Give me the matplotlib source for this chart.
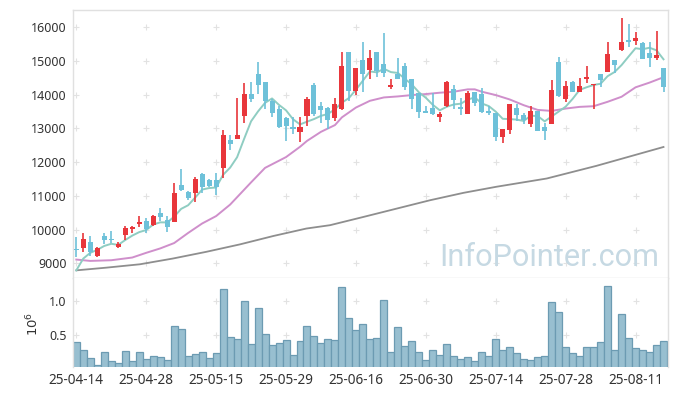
import matplotlib
matplotlib.use("Agg")
import matplotlib.pyplot as plt
import numpy as np

# ---------------- data ----------------
opens = [9420, 9455, 9640, 9220, 9800, 9720, 9490, 9840, 10010, 10160,
         10250, 10130, 10480, 10280, 10230, 11310, 11100, 11090, 11660, 11460,
         11460, 11830, 12650, 12690, 13380, 14010, 14610, 14380, 13810, 13570,
         13310, 13040, 12900, 13380, 14290, 13680, 13620, 13320, 13590, 15280,
         14120, 15030, 14730, 15270, 14910, 14240, 14610, 14860, 14470, 14060,
         13520, 13610, 13350, 13660, 14170, 13640, 13440, 14080, 14020, 13530,
         13450, 12750, 12950, 13610, 13400, 13130, 13520, 13040, 13130, 14970,
         13870, 14370, 14090, 14480, 14280, 14610, 14680, 15030, 15330, 15620,
         15600, 15540, 15250, 15100, 14780]
highs = [9780, 9910, 9800, 9490, 9910, 9950, 9630, 10100, 10100, 10390,
         10330, 10420, 10650, 10400, 11370, 11810, 11140, 11570, 11680, 11490,
         11690, 12940, 12820, 13890, 14340, 14370, 14960, 14380, 13880, 13660,
         13350, 13330, 13330, 13940, 14340, 13770, 13640, 13900, 15260, 15280,
         14780, 15570, 15330, 15270, 15820, 14480, 15080, 14950, 14470, 14060,
         13660, 14040, 13490, 14420, 14290, 13890, 14120, 14080, 14190, 13660,
         13450, 12980, 13720, 13720, 13450, 13670, 13520, 13150, 14440, 15130,
         14410, 14420, 14490, 14860, 14310, 14610, 15560, 15030, 16270, 16100,
         15870, 15560, 15570, 15890, 14780]
lows = [9190, 9340, 9210, 9190, 9580, 9590, 9460, 9700, 9900, 10080,
        9910, 10100, 10250, 9930, 10210, 11150, 10870, 10820, 11090, 11270,
        11020, 11520, 12360, 12690, 13170, 13790, 14020, 13590, 13330, 13000,
        12630, 12850, 12600, 13070, 13370, 13170, 12970, 13230, 13560, 13810,
        13990, 14090, 14460, 14520, 14520, 14160, 14460, 14140, 13590, 13300,
        13450, 13400, 13200, 13640, 13590, 13400, 13420, 13660, 13450, 13390,
        12630, 12570, 12850, 13230, 13130, 13030, 12920, 12670, 13130, 13940,
        13780, 14080, 14090, 14340, 13590, 14220, 14660, 14650, 15310, 15430,
        15480, 15060, 14810, 15030, 14090]
closes = [9380, 9730, 9320, 9440, 9700, 9700, 9570, 10040, 10090, 10220,
          10010, 10390, 10360, 10080, 11070, 11170, 10930, 11490, 11270, 11300,
          11250, 12820, 12540, 12820, 14010, 13870, 14290, 13810, 13470, 13050,
          13070, 12970, 13040, 13870, 13440, 13550, 13250, 13740, 14850, 14120,
          14780, 14610, 15100, 14710, 14650, 14290, 14480, 14240, 13860, 13500,
          13470, 13430, 13430, 14390, 13840, 13580, 14040, 13760, 13490, 13450,
          12750, 12980, 13720, 13410, 13250, 13530, 12930, 12930, 14140, 13970,
          14260, 14090, 14260, 14530, 14310, 14440, 15210, 14880, 15560, 15570,
          15680, 15060, 15100, 15180, 14240]
volumes_m = [0.392, 0.275, 0.157, 0.059, 0.245, 0.118, 0.083, 0.260, 0.113, 0.245,
             0.142, 0.186, 0.172, 0.127, 0.627, 0.583, 0.186, 0.216, 0.245, 0.157,
             0.230, 1.170, 0.466, 0.436, 0.995, 0.363, 0.892, 0.510, 0.348, 0.377,
             0.420, 0.200, 0.407, 0.627, 0.480, 0.377, 0.436, 0.420, 1.200, 0.745,
             0.572, 0.657, 0.436, 0.451, 1.010, 0.245, 0.613, 0.338, 0.407, 0.245,
             0.127, 0.275, 0.200, 0.363, 0.186, 0.142, 0.172, 0.113, 0.245, 0.186,
             0.436, 0.275, 0.319, 0.230, 0.142, 0.127, 0.172, 0.186, 0.980, 0.833,
             0.319, 0.230, 0.186, 0.319, 0.319, 0.392, 1.216, 0.275, 0.804, 0.451,
             0.304, 0.275, 0.245, 0.348, 0.407]

# moving average lines
ma_short = [8790, 9140, 9310, 9400, 9514, 9578, 9546, 9690, 9820, 9924,
            9986, 10150, 10214, 10212, 10382, 10614, 10722, 10948, 11186, 11232,
            11248, 11626, 11836, 12146, 12688, 13212, 13506, 13760, 13890, 13698,
            13538, 13274, 13120, 13200, 13278, 13374, 13430, 13570, 13766, 13902,
            14148, 14420, 14692, 14664, 14770, 14672, 14646, 14474, 14304, 14074,
            13910, 13700, 13538, 13644, 13712, 13734, 13856, 13922, 13742, 13664,
            13498, 13286, 13278, 13262, 13222, 13378, 13368, 13210, 13356, 13500,
            13646, 13878, 14144, 14222, 14290, 14326, 14550, 14674, 14880, 15132,
            15380, 15350, 15394, 15318, 15052]
ma_mid_x = [0, 2, 5, 8, 10, 12, 14, 16, 18, 20, 22, 25, 27, 30, 32, 33, 35, 37,
            38, 40, 42, 44, 46, 48, 50, 52, 54, 56, 57, 58, 60, 62, 64, 66, 68,
            70, 72, 74, 76, 78, 80, 82, 84]
ma_mid = [9110, 9070, 9090, 9170, 9310, 9440, 9600, 9900, 10180, 10400, 10740,
          11400, 11830, 12150, 12455, 12630, 12900, 13100, 13330, 13620, 13820,
          13920, 13950, 13990, 14020, 14060, 14090, 14160, 14160, 14090, 13990,
          13860, 13690, 13550, 13520, 13590, 13640, 13660, 13790, 13940, 14220,
          14360, 14520]
ma_long_x = [0, 4.3, 9.1, 13.8, 18.6, 23.4, 28.2, 32.9, 36.3, 41.1, 50.6, 55.4,
             60.1, 67.3, 74.4, 84]
ma_long = [8790, 8870, 8970, 9140, 9340, 9560, 9810, 10030, 10130, 10376, 10870,
           11090, 11270, 11515, 11890, 12450]

tick_idx = [0, 10, 20, 30, 40, 50, 60, 70, 80]
tick_labels = ['25-04-14', '25-04-28', '25-05-15', '25-05-29', '25-06-16',
               '25-06-30', '25-07-14', '25-07-28', '25-08-11']
price_ticks = [9000, 10000, 11000, 12000, 13000, 14000, 15000, 16000]
vol_ticks = [0.5, 1.0]

# ---------------- style ----------------
plt.rcParams['font.family'] = ['Noto Sans', 'DejaVu Sans']
UP = '#E8363B'
DOWN = '#6EC1D9'
SPINE = '#E0E0E0'
TXT = '#333333'

W, H = 677, 396
fig = plt.figure(figsize=(W / 100, H / 100), dpi=100)
L, R = 73.3, 667.7
ax1 = fig.add_axes([L / W, 1 - 278 / H, (R - L) / W, (278 - 10) / H])
ax2 = fig.add_axes([L / W, 1 - 367 / H, (R - L) / W, (367 - 278) / H])

n = len(closes)
x = np.arange(n)
o = np.array(opens); c = np.array(closes); h = np.array(highs); l = np.array(lows)
up = c >= o
cols = np.where(up, UP, DOWN)

# grid crosses
for ax, yt in ((ax1, price_ticks), (ax2, vol_ticks)):
    gx, gy = np.meshgrid(tick_idx, yt)
    ax.scatter(gx.ravel(), gy.ravel(), marker='+', s=20, color='#E2E2E2',
               linewidths=0.8, zorder=0)

# moving averages
ax1.plot(x, ma_short, color='#8FCDC2', lw=1.4, zorder=3)
ax1.plot(ma_mid_x, ma_mid, color='#CF8FCB', lw=1.4, zorder=2)
ax1.plot(ma_long_x, ma_long, color='#8E8E8E', lw=1.3, zorder=2)

# candles
ax1.vlines(x, l, h, colors=cols, lw=1.2, zorder=4)
body_b = np.minimum(o, c)
body_h = np.maximum(np.abs(c - o), 25)
ax1.bar(x, body_h, width=0.72, bottom=body_b, color=cols, lw=0, zorder=5)

# watermark
wm = ax1.text(659 / W, 1 - 265.7 / H, 'InfoPointer.com', transform=fig.transFigure,
              ha='right', va='baseline', fontsize=24, color='#C6D9E3',
              family=['Roboto', 'DejaVu Sans'], zorder=1)
fig.canvas.draw()
bb = wm.get_window_extent()
wm.set_fontsize(24 * 220 / bb.width)

ax1.set_xlim(-0.43, 84.6)
ax1.set_ylim(8563, 16514)
ax1.set_yticks(price_ticks)
ax1.set_yticklabels([str(v) for v in price_ticks])
ax1.set_xticks(tick_idx)
ax1.tick_params(axis='x', length=0, labelbottom=False)
ax1.tick_params(axis='y', length=0, pad=4.8, labelsize=9, labelcolor=TXT)

# volume
ax2.bar(x, volumes_m, width=1.0, color='#98BFD0', edgecolor='#6C9BB2', lw=0.9,
        zorder=2)
ax2.set_xlim(-0.43, 84.6)
ax2.set_ylim(0.03, 1.333)
ax2.set_yticks(vol_ticks)
ax2.set_yticklabels(['0.5', '1.0'])
ax2.set_xticks(tick_idx)
ax2.set_xticklabels(tick_labels)
ax2.tick_params(axis='y', length=0, pad=4.8, labelsize=9, labelcolor=TXT)
ax2.tick_params(axis='x', length=0, pad=4, labelsize=9.8, labelcolor=TXT)
fig.text(33 / W, 1 - 324 / H, r'$10^6$', rotation=90, ha='center', va='center',
         fontsize=9.5, color=TXT)

for ax in (ax1, ax2):
    for s in ax.spines.values():
        s.set_color(SPINE)
        s.set_linewidth(1.0)
ax2.spines['bottom'].set_visible(False)
ax2.spines['top'].set_visible(False)

fig.savefig('out.png', dpi=100)
